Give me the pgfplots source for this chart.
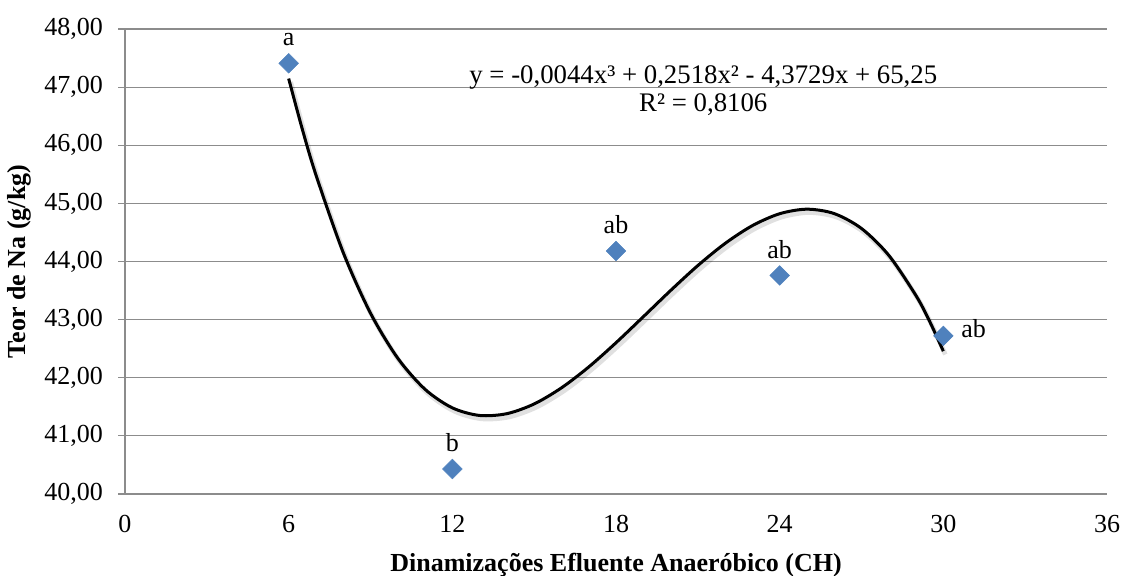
\documentclass[border=0pt]{standalone}
\usepackage{pgfplots}
\pgfplotsset{compat=1.18}
\usepackage{fontspec}
\setmainfont{Liberation Serif}
\definecolor{markblue}{HTML}{4F81BD}
\definecolor{gridgray}{HTML}{8C8C8C}
\newcommand{\fs}{\fontsize{19.5}{23}\selectfont}

\begin{document}
\begin{tikzpicture}
\begin{axis}[
  name=ax,
  scale only axis, width=736.5pt, height=348.75pt,
  xmin=0, xmax=36, ymin=40, ymax=48,
  xtick={0,6,...,36}, ytick={40,41,...,48},
  axis lines=left,
  axis line style={-, gridgray, line width=0.9pt},
  ymajorgrids, grid style={gridgray, line width=0.9pt},
  major tick length=5pt,
  tick align=outside,
  xtick style={draw=none},
  ytick style={gridgray, line width=0.9pt},
  ticklabel style={font=\fs},
  /pgf/number format/assume math mode=true,
  yticklabel style={xshift=-8pt, /pgf/number format/.cd, fixed, fixed zerofill, precision=2, use comma},
  xticklabel style={yshift=-7.5pt, /pgf/number format/.cd, fixed, precision=0},
  xlabel={Dinamizações Efluente Anaeróbico (CH)},
  ylabel={Teor de Na (g/kg)},
  xlabel style={font=\fs\bfseries, at={(axis description cs:0.5,-0.152)}, anchor=center},
  ylabel style={font=\fs\bfseries, at={(axis description cs:-0.108,0.5)}, anchor=center},
  clip=false,
]
\addplot[only marks, mark=square*, mark size=5.2pt,
  mark options={rotate=45, fill=markblue, draw=markblue}]
  coordinates {(6,47.41) (12,40.43) (18,44.18) (24,43.76) (30,42.72)};

\addplot[smooth, draw=black, opacity=0.12, line width=3.5pt, xshift=1.5pt, yshift=-2.5pt]
  coordinates {
  (6,47.147) (6.5,46.277) (7,45.490) (8,44.154) (9,43.111) (10,42.336) (11,41.801)
  (12,41.482) (13,41.351) (14,41.382) (15,41.549) (16,41.826) (17,42.185)
  (18,42.602) (19,43.049) (20,43.500) (21,43.930) (22,44.311) (23,44.617)
  (24,44.822) (25,44.900) (26,44.824) (27,44.568) (28,44.106) (29,43.411)
  (29.5,42.968) (30,42.457)};
\addplot[smooth, draw=black, line width=2.25pt]
  coordinates {
  (6,47.147) (6.5,46.277) (7,45.490) (8,44.154) (9,43.111) (10,42.336) (11,41.801)
  (12,41.482) (13,41.351) (14,41.382) (15,41.549) (16,41.826) (17,42.185)
  (18,42.602) (19,43.049) (20,43.500) (21,43.930) (22,44.311) (23,44.617)
  (24,44.822) (25,44.900) (26,44.824) (27,44.568) (28,44.106) (29,43.411)
  (29.5,42.968) (30,42.457)};

\node[font=\fs, anchor=base, yshift=13pt] at (axis cs:6,47.41) {a};
\node[font=\fs, anchor=base, yshift=13pt] at (axis cs:12,40.43) {b};
\node[font=\fs, anchor=base, yshift=13pt] at (axis cs:18,44.18) {ab};
\node[font=\fs, anchor=base, yshift=13pt] at (axis cs:24,43.76) {ab};
\node[font=\fs, anchor=base west, xshift=10pt, yshift=-1pt] at (axis cs:30,42.72) {ab};
\node[font=\fontsize{20.1}{21}\selectfont, align=center, anchor=center]
  at (axis cs:21.2,46.94) {y = -0,0044x³ + 0,2518x² - 4,3729x + 65,25\\R² = 0,8106};
\end{axis}
\pgfresetboundingbox
\path[use as bounding box] ([shift={(-93.75pt,-61.5pt)}]ax.south west) rectangle ([shift={(12pt,21.75pt)}]ax.north east);
\end{tikzpicture}
\end{document}
